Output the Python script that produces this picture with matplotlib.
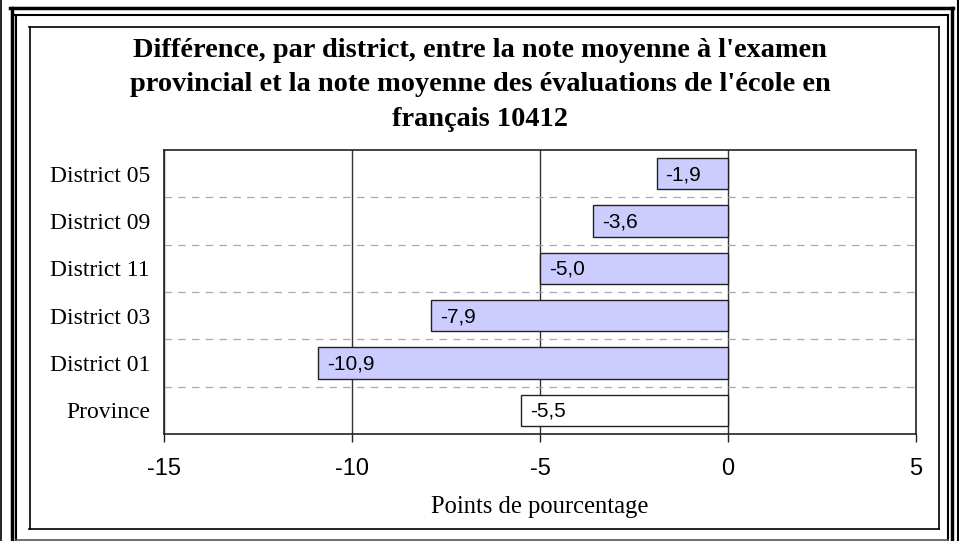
import matplotlib
matplotlib.use('Agg')
from matplotlib import pyplot as plt
from matplotlib.lines import Line2D

# data
districts = ['District 05', 'District 09', 'District 11', 'District 03', 'District 01', 'Province']
diffs = [-1.9, -3.6, -5.0, -7.9, -10.9, -5.5]
bar_colors = ['#CCCCFF', '#CCCCFF', '#CCCCFF', '#CCCCFF', '#CCCCFF', '#FFFFFF']
x_ticks = [-15, -10, -5, 0, 5]
title_lines = ["Différence, par district, entre la note moyenne à l'examen",
               "provincial et la note moyenne des évaluations de l'école en",
               "français 10412"]

W, H = 959, 541
fig = plt.figure(figsize=(W / 100, H / 100), dpi=100)


def px(x, y):
    return x / W, 1 - y / H


def hline(x0, x1, y, lw, color='black'):
    a, b = px(x0, y)
    c, _ = px(x1, y)
    fig.add_artist(Line2D([a, c], [b, b], lw=lw, color=color, transform=fig.transFigure))


def vline(x, y0, y1, lw, color='black'):
    a, b = px(x, y0)
    _, d = px(x, y1)
    fig.add_artist(Line2D([a, a], [b, d], lw=lw, color=color, transform=fig.transFigure))


# outer frame (thick + thin), cut off at bottom
hline(10, 953, 7.5, 2.5)
vline(11.5, 7.5, 541, 2.5)
vline(951.5, 7.5, 541, 2.5)
hline(15, 948, 14.5, 1.5)
vline(15.5, 14.5, 541, 1.5)
vline(947.5, 14.5, 541, 1.5)
vline(0.5, 0, 541, 1.2)
vline(957.5, 0, 541, 1.5)
hline(16, 948, 539.5, 1.2, '#555555')
# chart area box
hline(29, 939, 26.5, 1.2)
hline(29, 939, 528.5, 1.2)
vline(29.5, 26.5, 528.5, 1.2)
vline(939, 26.5, 528.5, 1.2)

serif = 'Liberation Serif'
sans = 'Liberation Sans'

for i, line in enumerate(title_lines):
    fig.text(*px(480, 50 + 34.5 * i), line, ha='center', va='center',
             fontsize=20.4, fontweight='bold', family=serif)

l, t = px(164, 150)
r, b = px(916, 434)
ax = fig.add_axes([l, b, r - l, t - b])

pos = list(range(len(districts)))
ax.barh(pos, diffs, height=0.66, color=bar_colors, edgecolor='#222222', linewidth=1.0, zorder=3)
ax.set_ylim(len(districts) - 0.5, -0.5)
ax.set_xlim(-15, 5)
ax.set_xticks(x_ticks)
ax.set_xticklabels([str(v) for v in x_ticks], family=sans, fontsize=17)
ax.set_yticks(pos)
ax.set_yticklabels(districts, family=serif, fontsize=17)
ax.set_yticks([p + 0.5 for p in pos[:-1]], minor=True)
ax.tick_params(axis='y', which='both', length=0, pad=10)
ax.tick_params(axis='x', length=6, width=1, direction='out', pad=11, color='#222222')
ax.grid(axis='x', which='major', color='#333333', linewidth=1, zorder=1)
ax.grid(axis='y', which='minor', color='#AAAAAA', linestyle=(0, (6, 5)), linewidth=0.9, zorder=1)
for s in ax.spines.values():
    s.set_color('#222222')
    s.set_linewidth(1.2)

for p, v in zip(pos, diffs):
    ax.annotate(f'{v:.1f}'.replace('.', ','), (v, p), xytext=(9, 1), textcoords='offset pixels',
                ha='left', va='center_baseline', family=sans, fontsize=15, zorder=4)

fig.text(*px(540, 507), 'Points de pourcentage', ha='center', va='center',
         family=serif, fontsize=17.7)

fig.savefig('out.png', dpi=100)
